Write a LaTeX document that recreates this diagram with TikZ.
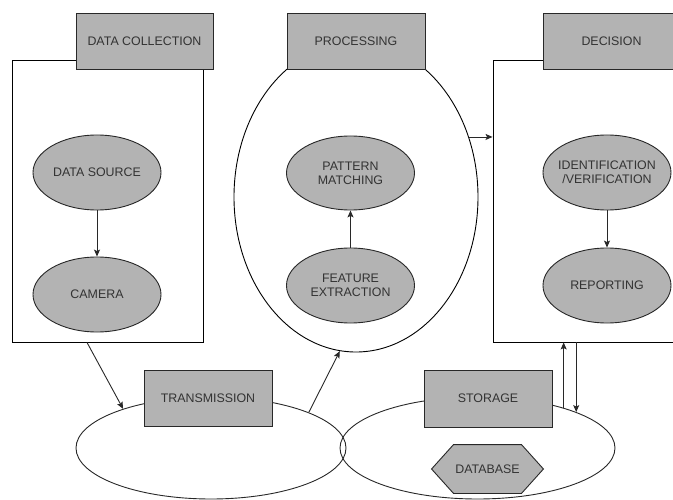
\documentclass[tikz,border=0pt]{standalone}
\usepackage{fontspec}
\setmainfont{Liberation Sans}
\usetikzlibrary{arrows.meta,shapes.geometric}

\definecolor{boxgrey}{RGB}{179,179,179}
\definecolor{textgrey}{RGB}{51,51,51}
\definecolor{linegrey}{RGB}{40,40,40}

\tikzset{every picture/.style={line width=0.9pt}}
\tikzset{
  capt/.style={text=textgrey, align=center, inner sep=0pt, font=\fontsize{12.4}{14}\selectfont},
  stagebox/.style={draw=linegrey, fill=boxgrey, rectangle, inner sep=0pt, capt},
  area/.style={draw=black, fill=white, inner sep=0pt},
  greyell/.style={draw=linegrey, fill=boxgrey, ellipse, inner sep=0pt, minimum width=128pt, minimum height=75pt},
  conn/.style={draw=linegrey, -{Stealth[length=7pt,width=6pt,inset=1.5pt]}},
}

\begin{document}
\begin{tikzpicture}[x=1pt,y=1pt,yscale=-1,xscale=1]
\clip (0,0) rectangle (673,500);

%Shape: Rectangle [data collection area]
\node[area, rectangle, minimum width=191pt, minimum height=282pt] (dcArea) at (107.5,201) {};
%Shape: Ellipse [processing area]
\node[area, ellipse, minimum width=244pt, minimum height=310pt] (procArea) at (356,197) {};
%Shape: Rectangle [decision area]
\node[area, rectangle, minimum width=207pt, minimum height=282pt] (decArea) at (596.5,201) {};
%Shape: Ellipse [transmission area]
\node[draw=linegrey, ellipse, inner sep=0pt, minimum width=270pt, minimum height=102pt] (transArea) at (211,448) {};
%Shape: Ellipse [storage area]
\node[draw=linegrey, ellipse, inner sep=0pt, minimum width=275pt, minimum height=102pt] (storArea) at (477.5,448) {};

% Text Node
\node[stagebox, minimum width=137pt, minimum height=56pt] (dataCollection) at (144.5,41) {DATA COLLECTION};
% Text Node
\node[stagebox, minimum width=138pt, minimum height=56pt] (processing) at (356,41) {PROCESSING};
% Text Node
\node[stagebox, minimum width=137pt, minimum height=56pt] (decision) at (611.5,41) {DECISION};
% Text Node
\node[stagebox, minimum width=128pt, minimum height=56pt] (transmission) at (208,398) {TRANSMISSION};
% Text Node
\node[stagebox, minimum width=128pt, minimum height=57pt] (storage) at (488,398.5) {STORAGE};

% Text Node
\node[greyell, label={[capt]center:DATA SOURCE}] (dataSource) at (97,172.5) {};
% Text Node
\node[greyell, label={[capt]center:CAMERA}] (camera) at (97,294.5) {};
% Text Node
\node[greyell, minimum height=74pt, label={[capt]center:PATTERN\\MATCHING}] (patternMatching) at (350.5,173) {};
% Text Node
\node[greyell, label={[capt]center:FEATURE\\EXTRACTION}] (featureExtraction) at (350.5,285.5) {};
% Text Node
\node[greyell, label={[capt]center:IDENTIFICATION\\/VERIFICATION}] (identification) at (607,172.5) {};
% Text Node
\node[greyell, label={[capt]center:REPORTING}] (reporting) at (607,285.5) {};

%Shape: Hexagon
\node[capt, minimum width=111pt, minimum height=48pt] (database) at (487.5,469) {};
\draw[draw=linegrey, fill=boxgrey] (database.west) -- ([xshift=22pt]database.north west) -- ([xshift=-22pt]database.north east) -- (database.east) -- ([xshift=-22pt]database.south east) -- ([xshift=22pt]database.south west) -- cycle;
\node[capt] at (database) {DATABASE};

%Straight Lines
\draw[conn] (dataSource) -- (camera);
\draw[conn] (featureExtraction) -- (patternMatching);
\draw[conn] (identification) -- (reporting);
\draw[conn] ([xshift=-20.5pt]dcArea.south) -- (transArea.156);
\draw[conn] (transArea.20) -- (procArea.264);
\draw[conn] (procArea.28.6) -- (procArea.28.6 -| decArea.west);
\draw[conn] (storArea.25) -- (storArea.25 |- decArea.south);
\draw[conn] (storArea.20 |- decArea.south) -- (storArea.20);

\end{tikzpicture}
\end{document}
